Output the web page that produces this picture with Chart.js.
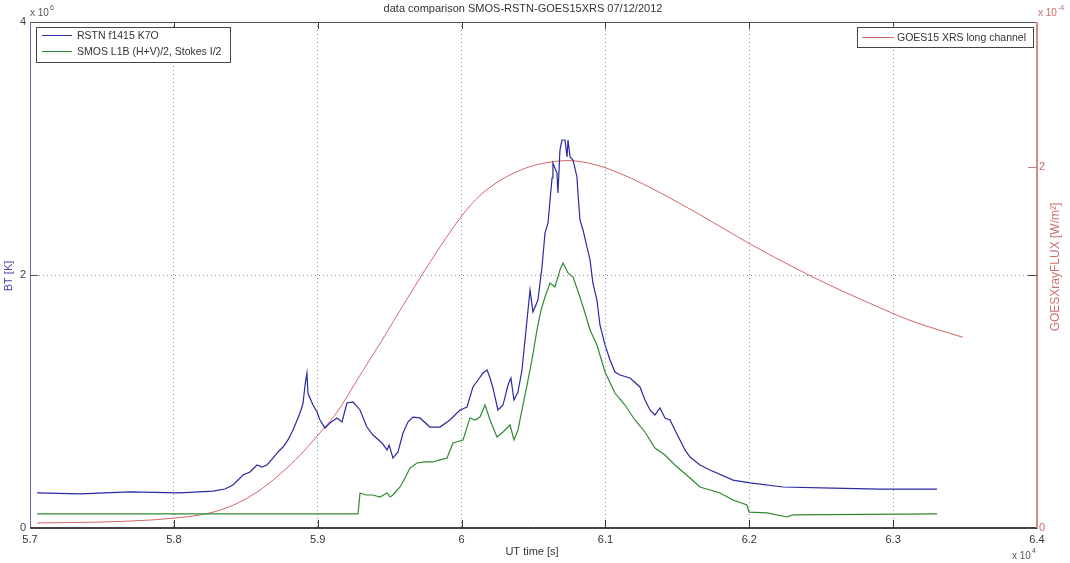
<!DOCTYPE html>
<html><head><meta charset="utf-8">
<script src="https://cdn.jsdelivr.net/npm/chart.js@4"></script>
<style>html,body{margin:0;padding:0;background:#fff;}#wrap{width:1070px;height:563px;position:relative;}</style>
</head><body><div id="wrap"><canvas id="c" width="1070" height="563"></canvas></div>
<script>
// ---- data ----
const chartTitle = 'data comparison SMOS-RSTN-GOES15XRS 07/12/2012';
const xTickValues = [57000,58000,59000,60000,61000,62000,63000,64000];
const xTickLabels = ['5.7','5.8','5.9','6','6.1','6.2','6.3','6.4'];
const btTickValues = [0,2e6,4e6];
const btTickLabels = ['0','2','4'];
const fluxTickValues = [0,2e-4];
const fluxTickLabels = ['0','2'];

// RSTN f1415 K7O : UT time [s], BT [K]
const rstnTime = [57049,57348,57695,58043,58272,58355,58411,58481,58529,58578,
 58613,58647,58689,58724,58759,58793,58828,58863,58884,58898,
 58912,58925,58932,58946,58967,58995,59016,59050,59085,59134,
 59169,59203,59245,59294,59342,59384,59447,59482,59496,59523,
 59558,59593,59627,59662,59711,59780,59850,59919,59989,60038,
 60079,60114,60149,60177,60198,60218,60253,60288,60323,60343,
 60364,60392,60420,60455,60476,60496,60531,60559,60580,60601,
 60615,60629,60635,60663,60670,60684,60698,60719,60733,60740,
 60754,60775,60802,60809,60823,60844,60872,60893,60913,60941,
 60962,60997,61032,61066,61101,61171,61240,61275,61310,61344,
 61379,61414,61449,61483,61518,61553,61588,61657,61727,61887,
 62005,62234,62582,62908,63305];
const rstnBT = [277000,269000,285000,277000,292000,308000,340000,419000,443000,498000,
 482000,498000,553000,601000,640000,696000,775000,870000,933000,988000,
 1130000,1225000,1067000,1028000,972000,917000,854000,791000,830000,870000,
 838000,988000,996000,933000,798000,735000,672000,617000,656000,553000,
 601000,751000,838000,877000,870000,798000,798000,854000,933000,957000,
 1115000,1170000,1225000,1249000,1186000,1107000,933000,972000,1130000,1186000,
 1012000,1075000,1249000,1644000,1881000,1708000,1802000,2063000,2332000,2411000,
 2593000,2767000,2885000,2806000,2648000,2988000,3067000,3067000,2933000,3067000,
 2933000,2909000,2775000,2648000,2435000,2356000,2221000,2119000,1937000,1802000,
 1605000,1447000,1328000,1233000,1209000,1186000,1115000,1012000,933000,893000,
 949000,870000,854000,775000,696000,617000,561000,498000,458000,379000,
 356000,324000,316000,308000,308000];

// SMOS L1B (H+V)/2, Stokes I/2 : UT time [s], BT [K]
const smosTime = [57049,59280,59294,59336,59384,59433,59482,59503,59523,59572,
 59607,59641,59690,59746,59801,59850,59899,59940,60010,60058,
 60093,60128,60163,60198,60246,60288,60337,60364,60392,60420,
 60455,60489,60524,60552,60580,60615,60649,60684,60705,60740,
 60775,60823,60858,60893,60941,60997,61066,61136,61205,61275,
 61344,61414,61483,61588,61657,61796,61887,61984,61998,62123,
 62262,62304,63305];
const smosBT = [111000,111000,277000,261000,261000,245000,277000,245000,261000,324000,
 395000,474000,514000,522000,522000,538000,553000,672000,696000,870000,
 854000,877000,972000,854000,719000,759000,814000,696000,775000,933000,
 1130000,1328000,1565000,1723000,1826000,1937000,1905000,2040000,2095000,2016000,
 1984000,1826000,1700000,1565000,1447000,1233000,1067000,972000,854000,759000,
 632000,577000,498000,395000,324000,277000,221000,182000,126000,119000,
 87000,103000,111000];

// GOES15 XRS long channel : UT time [s], flux [W/m2]
const goesTime = [57049,57487,57834,58001,58182,58321,58460,58599,58738,58877,
 59002,59134,59294,59447,59572,59780,60003,60128,60267,60357,
 60476,60594,60733,60823,60997,61240,61518,61796,61998,62283,
 62561,62839,63117,63485];
const goesFlux = [2.8e-6,3.3e-6,4.4e-6,5.5e-6,7.2e-6,9.9e-6,1.44e-5,2.10e-5,2.98e-5,4.03e-5,
 5.14e-5,6.41e-5,8.45e-5,1.039e-4,1.204e-4,1.470e-4,1.729e-4,1.840e-4,1.923e-4,1.961e-4,
 2.000e-4,2.022e-4,2.033e-4,2.028e-4,1.994e-4,1.912e-4,1.796e-4,1.669e-4,1.575e-4,1.453e-4,
 1.343e-4,1.243e-4,1.149e-4,1.055e-4];

// ---- styling ----
const FONT = '"Liberation Sans", Arial, Helvetica, sans-serif';
const C_BLUE = '#2a2aa2', C_GREEN = '#2f8a32', C_RED = '#d46666';
const pts = (t, v) => t.map((x, i) => ({x: x, y: v[i]}));

const deco = {
  id: 'deco',
  afterDraw(chart) {
    const {ctx, chartArea: a, scales: {x, y, y2}} = chart;
    const line = (x1, y1, x2, y2_, c) => { ctx.strokeStyle = c; ctx.beginPath(); ctx.moveTo(x1, y1); ctx.lineTo(x2, y2_); ctx.stroke(); };
    ctx.save();
    ctx.lineWidth = 1;
    ctx.setLineDash([]);
    // box border
    line(a.left, a.top + 0.5, a.right, a.top + 0.5, '#555');
    line(Math.round(a.left) + 0.5, a.top, Math.round(a.left) + 0.5, a.bottom, '#666c98');
    line(a.left, Math.round(a.bottom) - 0.5, a.right, Math.round(a.bottom) - 0.5, '#444');
    line(Math.round(a.right) - 0.5, a.top, Math.round(a.right) - 0.5, a.bottom, '#d68a8a');
    // inward tick marks
    xTickValues.forEach(v => {
      if (v <= x.min || v >= x.max) return;
      const px = Math.round(x.getPixelForValue(v)) + 0.5;
      line(px, a.bottom, px, a.bottom - 8, '#333');
      line(px, a.top, px, a.top + 7, '#444');
    });
    btTickValues.forEach(v => {
      if (v <= y.min || v >= y.max) return;
      const py = Math.round(y.getPixelForValue(v)) + 0.5;
      line(a.left, py, a.left + 8, py, '#555');
      line(a.right, py, a.right - 9, py, '#444');
    });
    fluxTickValues.forEach(v => {
      if (v <= y2.min || v >= y2.max) return;
      const py = Math.round(y2.getPixelForValue(v)) + 0.5;
      line(a.right, py, a.right - 9, py, '#cf7a7a');
    });

    // legends
    const legend = (bx, by, bw, bh, items) => {
      ctx.fillStyle = '#fff';
      ctx.fillRect(bx, by, bw, bh);
      ctx.strokeStyle = '#444';
      ctx.strokeRect(bx + 0.5, by + 0.5, bw, bh);
      ctx.font = '10.5px ' + FONT;
      ctx.textAlign = 'left';
      ctx.textBaseline = 'middle';
      items.forEach(it => {
        line(it.x1, it.y + 0.5, it.x2, it.y + 0.5, it.c);
        ctx.fillStyle = '#333';
        ctx.fillText(it.t, it.tx, it.y + 1);
      });
    };
    legend(36, 27, 194, 35, [
      {x1: 42, x2: 72, y: 35, c: C_BLUE, t: 'RSTN f1415 K7O', tx: 77},
      {x1: 42, x2: 72, y: 51, c: C_GREEN, t: 'SMOS L1B (H+V)/2, Stokes I/2', tx: 77}
    ]);
    legend(857, 27, 176, 20, [
      {x1: 862, x2: 894, y: 37, c: C_RED, t: 'GOES15 XRS long channel', tx: 897}
    ]);

    // title and axis titles
    ctx.fillStyle = '#333';
    ctx.font = '11px ' + FONT;
    ctx.textAlign = 'center';
    ctx.textBaseline = 'middle';
    ctx.fillText(chartTitle, 523, 9);
    ctx.fillText('UT time [s]', 532, 552);

    ctx.save();
    ctx.translate(9, 276);
    ctx.rotate(-Math.PI / 2);
    ctx.fillStyle = '#4848a8';
    ctx.fillText('BT [K]', 0, 0);
    ctx.restore();

    ctx.save();
    ctx.translate(1056, 267);
    ctx.rotate(-Math.PI / 2);
    ctx.fillStyle = '#cf7070';
    ctx.font = '12px ' + FONT;
    ctx.fillText('GOESXrayFLUX [W/m\u00B2]', 0, 0);
    ctx.restore();

    // exponent labels
    const expo = (xx, base, sup, color) => {
      ctx.fillStyle = color;
      ctx.textAlign = 'left';
      ctx.textBaseline = 'alphabetic';
      ctx.font = '10px ' + FONT;
      ctx.fillText('x 10', xx, base);
      const w = ctx.measureText('x 10').width;
      ctx.font = '7px ' + FONT;
      ctx.fillText(sup, xx + w + 1, base - 6);
    };
    expo(30, 16, '6', '#555');
    expo(1038, 16, '-4', '#c96a6a');
    expo(1012, 559, '4', '#555');
    ctx.restore();
  }
};

new Chart(document.getElementById('c'), {
  type: 'line',
  data: {
    datasets: [
      {label: 'RSTN f1415 K7O', data: pts(rstnTime, rstnBT), borderColor: C_BLUE, borderWidth: 1.2, pointRadius: 0, yAxisID: 'y', tension: 0},
      {label: 'SMOS L1B (H+V)/2, Stokes I/2', data: pts(smosTime, smosBT), borderColor: C_GREEN, borderWidth: 1.2, pointRadius: 0, yAxisID: 'y', tension: 0},
      {label: 'GOES15 XRS long channel', data: pts(goesTime, goesFlux), borderColor: C_RED, borderWidth: 1, pointRadius: 0, yAxisID: 'y2', cubicInterpolationMode: 'monotone'}
    ]
  },
  options: {
    responsive: false,
    animation: false,
    devicePixelRatio: 1,
    layout: {padding: {top: 22, left: 0, right: 0, bottom: 0}},
    plugins: {legend: {display: false}, tooltip: {enabled: false}, title: {display: false}},
    scales: {
      x: {
        type: 'linear', min: 57000, max: 64000,
        afterBuildTicks: s => { s.ticks = xTickValues.map(v => ({value: v})); },
        afterFit: s => { s.height = 35; },
        ticks: {callback: (v, i) => xTickLabels[i], autoSkip: false, maxRotation: 0, padding: 5, color: '#333', font: {size: 11, family: FONT}},
        grid: {drawTicks: false, lineWidth: 1, color: c => (c.tick && (c.tick.value === 57000 || c.tick.value === 64000)) ? 'rgba(0,0,0,0)' : '#8a8a8a'},
        border: {display: true, color: '#444', width: 1, dash: [1, 3]}
      },
      y: {
        type: 'linear', position: 'left', min: 0, max: 4e6,
        afterBuildTicks: s => { s.ticks = btTickValues.map(v => ({value: v})); },
        afterFit: s => { s.width = 30; },
        ticks: {callback: (v, i) => btTickLabels[i], padding: 4, color: '#444', font: {size: 11, family: FONT}},
        grid: {drawTicks: false, lineWidth: 1, color: c => (c.tick && c.tick.value === 2e6) ? '#8a8a8a' : 'rgba(0,0,0,0)'},
        border: {display: true, color: '#666c98', width: 1, dash: [1, 3]}
      },
      y2: {
        type: 'linear', position: 'right', min: 0, max: 2.8e-4,
        afterBuildTicks: s => { s.ticks = fluxTickValues.map(v => ({value: v})); },
        afterFit: s => { s.width = 33; },
        ticks: {callback: (v, i) => fluxTickLabels[i], padding: 2, color: '#c96a6a', font: {size: 11, family: FONT}},
        grid: {display: false, drawTicks: false},
        border: {display: true, color: '#d68a8a', width: 1}
      }
    }
  },
  plugins: [deco]
});
</script></body></html>
